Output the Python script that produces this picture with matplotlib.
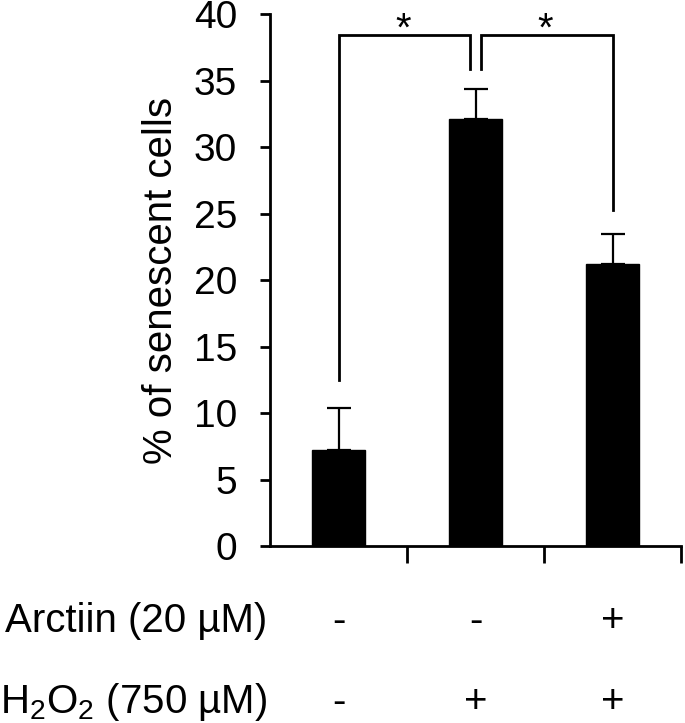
import matplotlib
matplotlib.use("Agg")
import matplotlib.pyplot as plt
import numpy as np

plt.rcParams['font.family'] = ['Liberation Sans', 'DejaVu Sans']
plt.rcParams['mathtext.fontset'] = 'custom'
plt.rcParams['mathtext.rm'] = 'Liberation Sans'
plt.rcParams['mathtext.it'] = 'Liberation Sans:italic'
plt.rcParams['mathtext.bf'] = 'Liberation Sans:bold'

# ---- data ----
values = [7.2, 32.1, 21.2]
errors = [3.2, 2.3, 2.3]
arctiin = ['-', '-', '+']
h2o2 = ['-', '+', '+']
yticks = [0, 5, 10, 15, 20, 25, 30, 35, 40]
ylabel = '% of senescent cells'
row_labels = ['Arctiin (20 µM)', r'H$_\mathregular{2}$O$_\mathregular{2}$ (750 µM)']

fig = plt.figure(figsize=(6.85, 7.23), dpi=100)
ax = fig.add_axes([270 / 685, (723 - 546) / 723, 411 / 685, 531.7 / 723])

x = np.arange(len(values))
ax.bar(x, values, width=0.38, color='black', edgecolor='black', zorder=2)
ax.errorbar(x, values, yerr=[np.zeros(len(errors)), errors], fmt='none',
            ecolor='black', elinewidth=1.6, capsize=8.6, capthick=1.6, zorder=3)

ax.set_xlim(-0.5, 2.5)
ax.set_ylim(0, 40)
ax.set_yticks(yticks)
ax.set_yticklabels([str(t) for t in yticks])
ax.set_xticks([0.5, 1.5, 2.5])
ax.set_xticklabels(['', '', ''])
ax.tick_params(axis='y', direction='out', length=7.2, width=2, pad=16.5,
               labelsize=28, color='black')
ax.tick_params(axis='x', direction='out', length=12, width=2, color='black')
for s in ['top', 'right']:
    ax.spines[s].set_visible(False)
for s in ['left', 'bottom']:
    ax.spines[s].set_linewidth(2)
ax.set_ylabel(ylabel, fontsize=29, labelpad=10)

# significance brackets
lw_b = 2.0
top = 38.47
ax.plot([0, 0, 0.958, 0.958], [12.5, top, top, 35.86], color='black',
        lw=lw_b, clip_on=False, solid_joinstyle='miter')
ax.plot([1.038, 1.038, 2, 2], [35.86, top, top, 25.3], color='black',
        lw=lw_b, clip_on=False, solid_joinstyle='miter')
ax.text(0.47, 38.0, '*', ha='center', va='baseline', fontsize=29, clip_on=False)
ax.text(1.51, 38.0, '*', ha='center', va='baseline', fontsize=29, clip_on=False)

# treatment rows
import matplotlib.transforms as mtransforms
trans = mtransforms.blended_transform_factory(ax.transData, fig.transFigure)
row_y = [(723 - 632) / 723, (723 - 713) / 723]
for ry, lab, signs in zip(row_y, row_labels, [arctiin, h2o2]):
    fig.text(267 / 685, ry, lab, ha='right', va='baseline', fontsize=29)
    for xi, sg in zip(x, signs):
        ax.text(xi, ry, sg, transform=trans, ha='center', va='baseline',
                fontsize=29, clip_on=False)

fig.savefig('out.png', dpi=100, facecolor='white')
